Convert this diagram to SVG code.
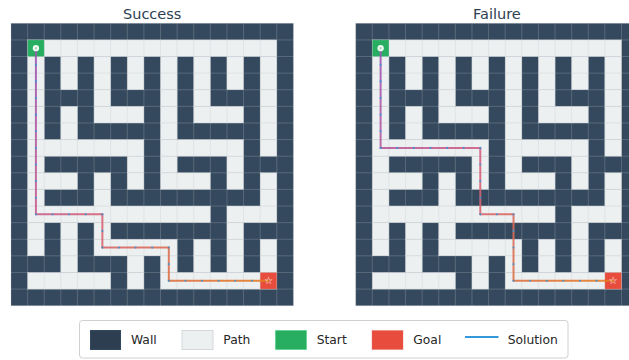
<svg xmlns="http://www.w3.org/2000/svg" xmlns:xlink="http://www.w3.org/1999/xlink" width="629" height="360" viewBox="0 0 629 360">
<style>
.title{font-family:"DejaVu Sans","Liberation Sans",sans-serif;font-size:14.5px;fill:#2c3e50;text-anchor:middle}
.lg{font-family:"DejaVu Sans","Liberation Sans",sans-serif;font-size:12.3px;fill:#262626}
.p{fill:#ecf0f1;stroke:#ecf0f1;stroke-width:0.02}
.grid{fill:none;stroke:#bdc3c7;stroke-opacity:0.32;stroke-width:0.05}
.sol{fill:none;stroke-width:0.12;stroke-linecap:round;stroke-opacity:0.9}
.dot{fill:#3498db;fill-opacity:0.85}
.star{font-family:"DejaVu Sans",sans-serif;font-size:0.62px;fill:#ffffff;text-anchor:middle}
</style>
<defs>
<g id="maze">
<rect x="0" y="0" width="17" height="17" fill="#34495e"/>
<g class="cells">
<rect class="p" x="1" y="1" width="15" height="1"/>
<rect class="p" x="1" y="2" width="1" height="2"/><rect class="p" x="3" y="2" width="1" height="2"/><rect class="p" x="5" y="2" width="1" height="2"/><rect class="p" x="7" y="2" width="1" height="2"/><rect class="p" x="9" y="2" width="1" height="2"/><rect class="p" x="11" y="2" width="1" height="2"/><rect class="p" x="13" y="2" width="1" height="2"/><rect class="p" x="15" y="2" width="1" height="2"/>
<rect class="p" x="1" y="4" width="1" height="1"/><rect class="p" x="5" y="4" width="1" height="1"/><rect class="p" x="9" y="4" width="1" height="1"/><rect class="p" x="11" y="4" width="1" height="1"/><rect class="p" x="15" y="4" width="1" height="1"/>
<rect class="p" x="1" y="5" width="1" height="1"/><rect class="p" x="3" y="5" width="1" height="1"/><rect class="p" x="5" y="5" width="3" height="1"/><rect class="p" x="9" y="5" width="1" height="1"/><rect class="p" x="11" y="5" width="3" height="1"/><rect class="p" x="15" y="5" width="1" height="1"/>
<rect class="p" x="1" y="6" width="1" height="1"/><rect class="p" x="3" y="6" width="1" height="1"/><rect class="p" x="9" y="6" width="1" height="1"/><rect class="p" x="15" y="6" width="1" height="1"/>
<rect class="p" x="1" y="7" width="7" height="1"/><rect class="p" x="9" y="7" width="5" height="1"/><rect class="p" x="15" y="7" width="1" height="1"/>
<rect class="p" x="1" y="8" width="1" height="1"/><rect class="p" x="7" y="8" width="1" height="1"/><rect class="p" x="9" y="8" width="1" height="1"/><rect class="p" x="13" y="8" width="1" height="1"/>
<rect class="p" x="1" y="9" width="3" height="1"/><rect class="p" x="5" y="9" width="1" height="1"/><rect class="p" x="7" y="9" width="1" height="1"/><rect class="p" x="9" y="9" width="3" height="1"/><rect class="p" x="13" y="9" width="1" height="1"/><rect class="p" x="15" y="9" width="1" height="1"/>
<rect class="p" x="1" y="10" width="1" height="1"/><rect class="p" x="5" y="10" width="1" height="1"/><rect class="p" x="15" y="10" width="1" height="1"/>
<rect class="p" x="1" y="11" width="11" height="1"/><rect class="p" x="13" y="11" width="3" height="1"/>
<rect class="p" x="1" y="12" width="1" height="1"/><rect class="p" x="3" y="12" width="1" height="1"/><rect class="p" x="5" y="12" width="1" height="1"/><rect class="p" x="13" y="12" width="1" height="1"/>
<rect class="p" x="1" y="13" width="1" height="1"/><rect class="p" x="3" y="13" width="1" height="1"/><rect class="p" x="5" y="13" width="5" height="1"/><rect class="p" x="11" y="13" width="1" height="1"/><rect class="p" x="13" y="13" width="1" height="1"/><rect class="p" x="15" y="13" width="1" height="1"/>
<rect class="p" x="3" y="14" width="1" height="1"/><rect class="p" x="7" y="14" width="1" height="1"/><rect class="p" x="9" y="14" width="1" height="1"/><rect class="p" x="11" y="14" width="1" height="1"/><rect class="p" x="13" y="14" width="1" height="1"/><rect class="p" x="15" y="14" width="1" height="1"/>
<rect class="p" x="1" y="15" width="5" height="1"/><rect class="p" x="7" y="15" width="1" height="1"/><rect class="p" x="9" y="15" width="7" height="1"/>
<rect x="1" y="1" width="1" height="1" fill="#27ae60"/>
<rect x="15" y="15" width="1" height="1" fill="#e74c3c"/>
</g>
<path class="grid" d="M0 0V17M1 0V17M2 0V17M3 0V17M4 0V17M5 0V17M6 0V17M7 0V17M8 0V17M9 0V17M10 0V17M11 0V17M12 0V17M13 0V17M14 0V17M15 0V17M16 0V17M17 0V17M0 0H17M0 1H17M0 2H17M0 3H17M0 4H17M0 5H17M0 6H17M0 7H17M0 8H17M0 9H17M0 10H17M0 11H17M0 12H17M0 13H17M0 14H17M0 15H17M0 16H17M0 17H17"/>
</g>
<g id="startMark">
<circle cx="1.5" cy="1.5" r="0.19" fill="#ffffff" fill-opacity="0.92"/>
<circle cx="1.5" cy="1.5" r="0.07" fill="#9fd9b4"/>
</g>
<linearGradient id="lA" gradientUnits="userSpaceOnUse" x1="1.5" y1="1.5" x2="1.5" y2="11.5"><stop offset="0" stop-color="#9b59b6"/><stop offset="1" stop-color="#c85e8b"/></linearGradient>
<linearGradient id="lB" gradientUnits="userSpaceOnUse" x1="1.5" y1="11.5" x2="5.5" y2="11.5"><stop offset="0" stop-color="#c85e8b"/><stop offset="1" stop-color="#d66277"/></linearGradient>
<linearGradient id="lC" gradientUnits="userSpaceOnUse" x1="5.5" y1="11.5" x2="5.5" y2="13.5"><stop offset="0" stop-color="#d66277"/><stop offset="1" stop-color="#d8666b"/></linearGradient>
<linearGradient id="lD" gradientUnits="userSpaceOnUse" x1="5.5" y1="13.5" x2="9.5" y2="13.5"><stop offset="0" stop-color="#d8666b"/><stop offset="1" stop-color="#dd6e53"/></linearGradient>
<linearGradient id="lE" gradientUnits="userSpaceOnUse" x1="9.5" y1="13.5" x2="9.5" y2="15.5"><stop offset="0" stop-color="#dd6e53"/><stop offset="1" stop-color="#df7247"/></linearGradient>
<linearGradient id="lF" gradientUnits="userSpaceOnUse" x1="9.5" y1="15.5" x2="15.5" y2="15.5"><stop offset="0" stop-color="#df7247"/><stop offset="1" stop-color="#e67e22"/></linearGradient>
<linearGradient id="rA" gradientUnits="userSpaceOnUse" x1="1.5" y1="1.5" x2="1.5" y2="7.5"><stop offset="0" stop-color="#9b59b6"/><stop offset="1" stop-color="#b65c9c"/></linearGradient>
<linearGradient id="rB" gradientUnits="userSpaceOnUse" x1="1.5" y1="7.5" x2="7.5" y2="7.5"><stop offset="0" stop-color="#b65c9c"/><stop offset="1" stop-color="#d15f83"/></linearGradient>
<linearGradient id="rC" gradientUnits="userSpaceOnUse" x1="7.5" y1="7.5" x2="7.5" y2="11.5"><stop offset="0" stop-color="#d15f83"/><stop offset="1" stop-color="#d8666b"/></linearGradient>
<linearGradient id="rD" gradientUnits="userSpaceOnUse" x1="7.5" y1="11.5" x2="9.5" y2="11.5"><stop offset="0" stop-color="#d8666b"/><stop offset="1" stop-color="#da6a5f"/></linearGradient>
<linearGradient id="rE" gradientUnits="userSpaceOnUse" x1="9.5" y1="11.5" x2="9.5" y2="15.5"><stop offset="0" stop-color="#da6a5f"/><stop offset="1" stop-color="#df7247"/></linearGradient>
<linearGradient id="rF" gradientUnits="userSpaceOnUse" x1="9.5" y1="15.5" x2="15.5" y2="15.5"><stop offset="0" stop-color="#df7247"/><stop offset="1" stop-color="#e67e22"/></linearGradient>
</defs>

<text class="title" x="152.2" y="18.5">Success</text>
<text class="title" x="496.9" y="18.5">Failure</text>

<g id="maze-success" transform="translate(11,23.3) scale(16.612)">
<use xlink:href="#maze" href="#maze"/>
<g id="solution-success">
<line class="sol" stroke="url(#lA)" x1="1.5" y1="1.5" x2="1.5" y2="11.5"/>
<line class="sol" stroke="url(#lB)" x1="1.5" y1="11.5" x2="5.5" y2="11.5"/>
<line class="sol" stroke="url(#lC)" x1="5.5" y1="11.5" x2="5.5" y2="13.5"/>
<line class="sol" stroke="url(#lD)" x1="5.5" y1="13.5" x2="9.5" y2="13.5"/>
<line class="sol" stroke="url(#lE)" x1="9.5" y1="13.5" x2="9.5" y2="15.5"/>
<line class="sol" stroke="url(#lF)" x1="9.5" y1="15.5" x2="15.5" y2="15.5"/>
<g class="dot">
<circle cx="1.5" cy="2.5" r="0.065"/><circle cx="1.5" cy="3.5" r="0.065"/><circle cx="1.5" cy="4.5" r="0.065"/><circle cx="1.5" cy="5.5" r="0.065"/><circle cx="1.5" cy="6.5" r="0.065"/><circle cx="1.5" cy="7.5" r="0.065"/><circle cx="1.5" cy="8.5" r="0.065"/><circle cx="1.5" cy="9.5" r="0.065"/><circle cx="1.5" cy="10.5" r="0.065"/><circle cx="1.5" cy="11.5" r="0.065"/>
<circle cx="2.5" cy="11.5" r="0.065"/><circle cx="3.5" cy="11.5" r="0.065"/><circle cx="4.5" cy="11.5" r="0.065"/><circle cx="5.5" cy="11.5" r="0.065"/>
<circle cx="5.5" cy="12.5" r="0.065"/><circle cx="5.5" cy="13.5" r="0.065"/>
<circle cx="6.5" cy="13.5" r="0.065"/><circle cx="7.5" cy="13.5" r="0.065"/><circle cx="8.5" cy="13.5" r="0.065"/><circle cx="9.5" cy="13.5" r="0.065"/>
<circle cx="9.5" cy="14.5" r="0.065"/><circle cx="9.5" cy="15.5" r="0.065"/>
<circle cx="10.5" cy="15.5" r="0.065"/><circle cx="11.5" cy="15.5" r="0.065"/><circle cx="12.5" cy="15.5" r="0.065"/><circle cx="13.5" cy="15.5" r="0.065"/><circle cx="14.5" cy="15.5" r="0.065"/>
</g>
</g>
<use xlink:href="#startMark" href="#startMark"/>
<text class="star" x="15.5" y="15.72">☆</text>
</g>

<g id="maze-failure" transform="translate(355.7,23.3) scale(16.612)">
<use xlink:href="#maze" href="#maze"/>
<g id="solution-failure">
<line class="sol" stroke="url(#rA)" x1="1.5" y1="1.5" x2="1.5" y2="7.5"/>
<line class="sol" stroke="url(#rB)" x1="1.5" y1="7.5" x2="7.5" y2="7.5"/>
<line class="sol" stroke="url(#rC)" x1="7.5" y1="7.5" x2="7.5" y2="11.5"/>
<line class="sol" stroke="url(#rD)" x1="7.5" y1="11.5" x2="9.5" y2="11.5"/>
<line class="sol" stroke="url(#rE)" x1="9.5" y1="11.5" x2="9.5" y2="15.5"/>
<line class="sol" stroke="url(#rF)" x1="9.5" y1="15.5" x2="15.5" y2="15.5"/>
<g class="dot">
<circle cx="1.5" cy="2.5" r="0.065"/><circle cx="1.5" cy="3.5" r="0.065"/><circle cx="1.5" cy="4.5" r="0.065"/><circle cx="1.5" cy="5.5" r="0.065"/><circle cx="1.5" cy="6.5" r="0.065"/><circle cx="1.5" cy="7.5" r="0.065"/>
<circle cx="2.5" cy="7.5" r="0.065"/><circle cx="3.5" cy="7.5" r="0.065"/><circle cx="4.5" cy="7.5" r="0.065"/><circle cx="5.5" cy="7.5" r="0.065"/><circle cx="6.5" cy="7.5" r="0.065"/><circle cx="7.5" cy="7.5" r="0.065"/>
<circle cx="7.5" cy="8.5" r="0.065"/><circle cx="7.5" cy="9.5" r="0.065"/><circle cx="7.5" cy="10.5" r="0.065"/><circle cx="7.5" cy="11.5" r="0.065"/>
<circle cx="8.5" cy="11.5" r="0.065"/><circle cx="9.5" cy="11.5" r="0.065"/>
<circle cx="9.5" cy="12.5" r="0.065"/><circle cx="9.5" cy="13.5" r="0.065"/><circle cx="9.5" cy="14.5" r="0.065"/><circle cx="9.5" cy="15.5" r="0.065"/>
<circle cx="10.5" cy="15.5" r="0.065"/><circle cx="11.5" cy="15.5" r="0.065"/><circle cx="12.5" cy="15.5" r="0.065"/><circle cx="13.5" cy="15.5" r="0.065"/><circle cx="14.5" cy="15.5" r="0.065"/>
</g>
</g>
<use xlink:href="#startMark" href="#startMark"/>
<text class="star" x="15.5" y="15.72">☆</text>
</g>

<g id="legend">
<rect x="79.5" y="320.5" width="488.5" height="37.5" rx="3" fill="#ffffff" fill-opacity="0.9" stroke="#d0d0d0" stroke-width="1"/>
<rect x="90.5" y="330.5" width="30" height="19" fill="#2c3e50" stroke="#34495e"/>
<text class="lg" x="131" y="344">Wall</text>
<rect x="182" y="330.5" width="31" height="19" fill="#ecf0f1" stroke="#d5d8dc"/>
<text class="lg" x="223.3" y="344">Path</text>
<rect x="275.5" y="330.5" width="31" height="19" fill="#27ae60" stroke="#2ecc71" stroke-opacity="0.4"/>
<text class="lg" x="316.7" y="344">Start</text>
<rect x="372" y="330.5" width="31" height="19" fill="#e74c3c" stroke="#ec7063" stroke-opacity="0.4"/>
<text class="lg" x="413.3" y="344">Goal</text>
<line x1="465" y1="337" x2="498.5" y2="337" stroke="#3498db" stroke-width="2"/>
<text class="lg" x="507.7" y="344">Solution</text>
</g>
</svg>
